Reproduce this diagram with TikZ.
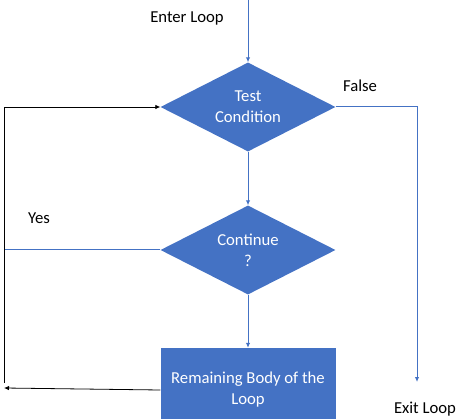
\documentclass[tikz,border=0pt]{standalone}
\usepackage{fontspec}
\setmainfont{Carlito}
\usepackage{tikz}
\usetikzlibrary{shapes.geometric}
\usetikzlibrary{arrows.meta}
\definecolor{officeblue}{HTML}{4472C4}

\begin{document}
\begin{tikzpicture}[x=1pt, y=-1pt, >={Latex[length=5pt,width=4.5pt]},
		every node/.style={font=\fontsize{16.7}{21}\selectfont},
		decision/.style={diamond, shape aspect=2, fill=officeblue, text=white, minimum width=175pt, minimum height=89pt, inner sep=0pt, align=center},
		process/.style={rectangle, fill=officeblue, text=white, minimum width=175pt, minimum height=84pt, inner sep=0pt, align=center},
		flow/.style={officeblue, line width=1pt}]
		\useasboundingbox (0,0) rectangle (457,419);
		\clip (0,0) rectangle (457,419);
		
		\draw (248,107) node[decision] (test) {Test\\Condition};
		\draw (248,250) node[decision] (cont) {Continue\\?};
		\draw (248,390) node[process] (body) {Remaining Body of the\\Loop};
		
		\draw (187,18) node (enterlbl) {Enter Loop};
		\draw (360,86) node (falselbl) {False};
		\draw (39,218) node (yeslbl) {Yes};
		\draw (425,409) node (exitlbl) {Exit Loop};
		
		\coordinate (enter) at (248,0);
		\coordinate (exit) at (417,382);
		\coordinate (yes) at (4,250);
		\coordinate (back) at (4,388);
		\coordinate (up) at (4,383);
		
		\draw[->, flow] (enter) -- (test.north);
		\draw[->, flow] (test.south) -- (cont.north);
		\draw[->, flow] (cont.south) -- (body.north);
		\draw[->, flow] (test.east) -| (exit);
		\draw[flow] (cont.west) -- (yes);
		
		\draw[->, line width=0.8pt] (body.west) -- (back);
		\draw[->, line width=0.8pt] (up) |- (test.west);
	\end{tikzpicture}
\end{document}
